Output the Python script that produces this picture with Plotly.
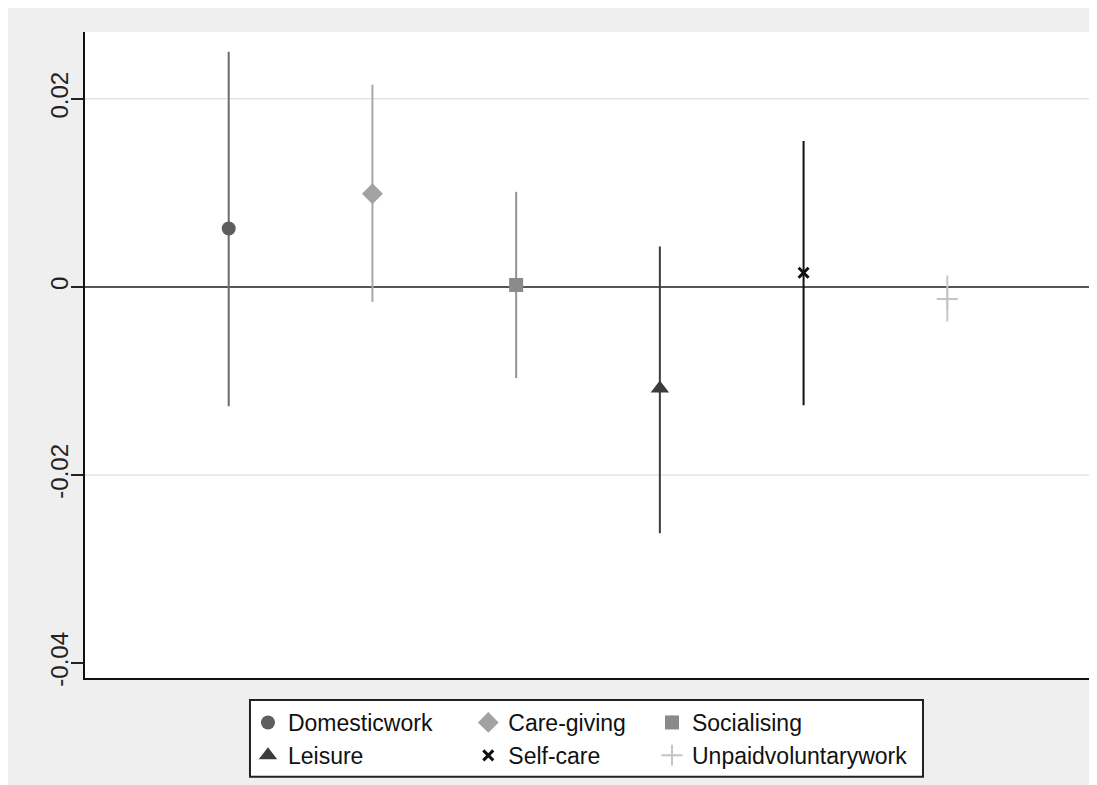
import plotly.graph_objects as go

# ---- data ----
categories = ["Domesticwork", "Care-giving", "Socialising", "Leisure", "Self-care", "Unpaidvoluntarywork"]
positions = [1, 2, 3, 4, 5, 6]
estimates = [0.0062, 0.0099, 0.0002, -0.0108, 0.0015, -0.0013]
ci_upper = [0.0250, 0.0215, 0.0101, 0.0043, 0.0155, 0.0012]
ci_lower = [-0.0127, -0.0016, -0.0097, -0.0262, -0.0126, -0.0037]

y_tickvals = [-0.04, -0.02, 0, 0.02]
y_ticktext = ["-0.04", "-0.02", "0", "0.02"]
grid_values = [-0.02, 0.02]

# ---- styles ----
colors = ["#5e5e5e", "#a2a2a2", "#8a8a8a", "#3c3c3c", "#111111", "#c4c4c4"]
bar_colors = ["#6c6c6c", "#a8a8a8", "#939393", "#3c3c3c", "#111111", "#c8c8c8"]
symbols = ["circle", "diamond", "square", "triangle-up", "x-thin", "cross-thin"]
sizes = [14, 16, 14, 16, 10, 15]
# legend columns (3 columns x 2 rows, as in the reference)
legend_ids = ["legend", "legend2", "legend3", "legend", "legend2", "legend3"]
legend_x = {"legend": 0.162, "legend2": 0.381, "legend3": 0.5636}

FONT = "Liberation Sans, Arial, sans-serif"

fig = go.Figure()
for i, name in enumerate(categories):
    marker = dict(symbol=symbols[i], size=sizes[i], color=colors[i])
    if symbols[i].endswith("-thin"):
        marker["line"] = dict(color=colors[i], width=3 if symbols[i] == "x-thin" else 2)
    else:
        marker["line"] = dict(width=0)
    fig.add_trace(go.Scatter(
        x=[positions[i]], y=[estimates[i]],
        mode="markers", name=name, marker=marker,
        error_y=dict(type="data", symmetric=False,
                     array=[ci_upper[i] - estimates[i]],
                     arrayminus=[estimates[i] - ci_lower[i]],
                     color=bar_colors[i], thickness=2, width=0),
        legend=legend_ids[i], showlegend=True,
    ))

shapes = []
for g in grid_values:
    shapes.append(dict(type="line", xref="paper", x0=0, x1=1, yref="y", y0=g, y1=g,
                       line=dict(color="#e4e4e4", width=1.5), layer="below"))
# legend frame
shapes.append(dict(type="rect", xref="paper", yref="paper", x0=0.164, x1=0.833, y0=-0.153, y1=-0.034,
                   fillcolor="white", line=dict(color="#222222", width=2), layer="above"))

legend_common = dict(orientation="v", bgcolor="rgba(0,0,0,0)", borderwidth=0,
                     font=dict(family=FONT, size=23, color="#111111"),
                     xanchor="left", yanchor="middle", y=-0.0944,
                     tracegroupgap=0, itemclick=False)

fig.update_layout(
    width=1084, height=777,
    margin=dict(l=77, r=1, t=24, b=107),
    paper_bgcolor="#efefef", plot_bgcolor="white",
    font=dict(family=FONT, color="#222222"),
    showlegend=True,
    legend=dict(x=legend_x["legend"], **legend_common),
    legend2=dict(x=legend_x["legend2"], **legend_common),
    legend3=dict(x=legend_x["legend3"], **legend_common),
    shapes=shapes,
    xaxis=dict(range=[0, 7], showgrid=False, zeroline=False, showticklabels=False, ticks="",
               showline=True, linecolor="#111111", linewidth=2),
    yaxis=dict(range=[-0.0416, 0.0271], tickvals=y_tickvals, ticktext=y_ticktext,
               tickangle=-90, tickfont=dict(family=FONT, size=24, color="#222222"),
               ticks="outside", ticklen=12, tickwidth=1.5, tickcolor="#222222",
               ticklabelstandoff=-7,
               showgrid=False, zeroline=True, zerolinecolor="#555555", zerolinewidth=2,
               showline=True, linecolor="#111111", linewidth=2),
)

fig.write_html("out.html")
